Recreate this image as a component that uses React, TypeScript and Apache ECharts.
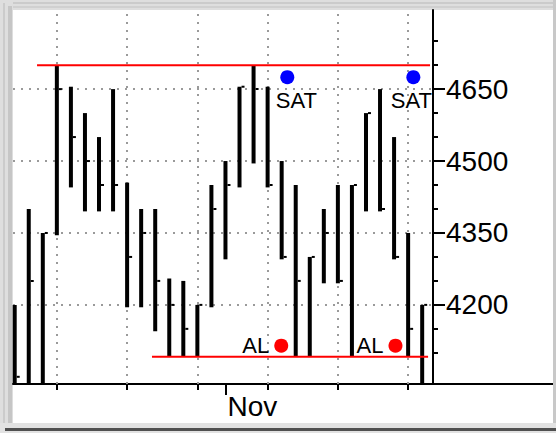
import React, { useEffect, useRef } from 'react';
import * as echarts from 'echarts';

// Daily high / low / close bars, one per trading day
const highs = [4200, 4400, 4350, 4700, 4655, 4600, 4550, 4650, 4455, 4400, 4400, 4255, 4250, 4200, 4450, 4500, 4655, 4700, 4655, 4500, 4450, 4300, 4400, 4450, 4450, 4600, 4650, 4550, 4350, 4200];
const lows = [4030, 4030, 4030, 4345, 4445, 4395, 4395, 4395, 4195, 4195, 4145, 4092, 4092, 4092, 4195, 4295, 4445, 4495, 4445, 4295, 4092, 4092, 4245, 4245, 4092, 4395, 4395, 4295, 4092, 4030];
const closes = [4050, 4250, 4350, 4650, 4550, 4500, 4450, 4450, 4300, 4350, 4250, 4200, 4150, 4200, 4400, 4450, 4655, 4650, 4450, 4300, 4250, 4300, 4350, 4250, 4450, 4600, 4400, 4300, 4150, 4200];

// Resistance / support lines
const resistanceLine = [[1.59, 4700], [29.56, 4700]];
const supportLine = [[9.77, 4092], [29.42, 4092]];

// Signal markers
const satPoints = [[19.4, 4675], [28.37, 4675]];
const alPoints = [[18.97, 4115], [27.1, 4115]];

// Axis ticks
const xGridDays = [3, 8, 13, 18, 23, 28];
const monthStarts = [15];
const monthNames = ['Nov'];
const yLabelValues = [4200, 4350, 4500, 4650];
const yTickValues = [4100, 4150, 4200, 4250, 4300, 4350, 4400, 4450, 4500, 4550, 4600, 4650, 4700, 4750];

const X_MIN = -0.121;
const X_MAX = 29.77;
const Y_MIN = 4035;
const Y_MAX = 4815;

const FONT = '"Liberation Sans", Arial, sans-serif';

export default function App() {
  const ref = useRef<HTMLDivElement>(null);

  useEffect(() => {
    if (!ref.current) return;
    const chart = echarts.init(ref.current, null, { renderer: 'svg' });

    const barData = highs.map((h, i) => [i, h, lows[i], closes[i]]);
    const blackLine = { color: '#000', width: 2 };
    // the label of a marker near the price scale is kept inside the plot
    const satData = satPoints.map((p, i) => ({
      value: p,
      label: { offset: [i === satPoints.length - 1 ? -2 : 9, 0] },
    }));

    const option: any = {
      animation: false,
      backgroundColor: '#ffffff',
      grid: { left: 13, right: 123, top: 10, bottom: 49 },
      xAxis: [
        {
          type: 'value', position: 'bottom', min: X_MIN, max: X_MAX,
          axisLine: { show: true, onZero: false, lineStyle: blackLine },
          axisTick: { show: true, customValues: xGridDays, length: 6, lineStyle: blackLine },
          axisLabel: { show: false },
          splitLine: { show: false },
        },
        {
          type: 'value', position: 'bottom', min: X_MIN, max: X_MAX,
          axisLine: { show: false, onZero: false },
          axisTick: { show: true, customValues: monthStarts, length: 11, lineStyle: blackLine },
          axisLabel: {
            show: true, customValues: monthStarts, align: 'left', margin: 8,
            fontSize: 28, fontFamily: FONT, color: '#000', padding: [0, 0, 0, 2],
            formatter: (v: number) => monthNames[monthStarts.indexOf(Math.round(v))] || '',
          },
          splitLine: { show: false },
        },
      ],
      yAxis: [
        {
          type: 'value', position: 'right', min: Y_MIN, max: Y_MAX,
          axisLine: { show: true, onZero: false, lineStyle: blackLine },
          axisTick: { show: true, customValues: yTickValues, length: 5, lineStyle: blackLine },
          axisLabel: {
            show: true, customValues: yLabelValues, margin: 13, fontSize: 28, fontFamily: FONT, color: '#000',
            formatter: (v: number) => String(Math.round(v)),
          },
          splitLine: { show: false },
        },
        {
          type: 'value', position: 'right', min: Y_MIN, max: Y_MAX,
          axisLine: { show: false, onZero: false },
          axisTick: { show: true, customValues: yLabelValues, length: 12, lineStyle: blackLine },
          axisLabel: { show: false },
          splitLine: { show: false },
        },
      ],
      graphic: [
        // window frame
        { type: 'rect', shape: { x: 0, y: 0, width: 556, height: 10 }, style: { fill: '#dedede' }, silent: true },
        { type: 'rect', shape: { x: 0, y: 2, width: 556, height: 2 }, style: { fill: '#cbcbcb' }, silent: true },
        { type: 'rect', shape: { x: 0, y: 6, width: 556, height: 2 }, style: { fill: '#d0d0d0' }, silent: true },
        { type: 'rect', shape: { x: 0, y: 0, width: 13, height: 425 }, style: { fill: '#dedede' }, silent: true },
        { type: 'rect', shape: { x: 3, y: 3, width: 2, height: 422 }, style: { fill: '#cbcbcb' }, silent: true },
        { type: 'rect', shape: { x: 8, y: 6, width: 4, height: 419 }, style: { fill: '#c6c6c6' }, silent: true },
        { type: 'rect', shape: { x: 553, y: 0, width: 3, height: 433 }, style: { fill: '#c8c8c8' }, silent: true },
        { type: 'rect', shape: { x: 0, y: 423, width: 556, height: 10 }, style: { fill: '#e2e2e2' }, silent: true },
        { type: 'rect', shape: { x: 5, y: 428, width: 551, height: 3 }, style: { fill: '#505050' }, silent: true },
        // bottom rule continues under the price scale
        { type: 'line', shape: { x1: 433, y1: 384, x2: 553, y2: 384 }, style: { stroke: '#000', lineWidth: 2 }, silent: true },
      ],
      series: [
        {
          name: 'grid',
          type: 'line',
          data: [],
          z: 1,
          silent: true,
          markLine: {
            z: 1,
            silent: true,
            symbol: ['none', 'none'],
            label: { show: false },
            emphasis: { disabled: true },
            lineStyle: { color: '#9a9a9a', width: 2, type: [2, 6] },
            data: [
              ...xGridDays.map((v) => ({ xAxis: v })),
              ...yLabelValues.map((v) => ({ yAxis: v })),
            ],
          },
        },
        {
          name: 'HLC',
          type: 'custom',
          z: 3,
          data: barData,
          encode: { x: 0, y: [1, 2, 3] },
          renderItem: (params: any, api: any) => {
            const i = api.value(0);
            const top = api.coord([i, api.value(1)]);
            const bottom = api.coord([i, api.value(2)]);
            const close = api.coord([i, api.value(3)]);
            const cs = params.coordSys;
            const yTop = Math.max(top[1], cs.y);
            const yBottom = Math.min(bottom[1], cs.y + cs.height);
            return {
              type: 'group',
              children: [
                { type: 'rect', shape: { x: top[0] - 2, y: yTop, width: 4, height: yBottom - yTop }, style: { fill: '#000' } },
                { type: 'rect', shape: { x: top[0] + 2, y: close[1] - 1, width: 3, height: 2 }, style: { fill: '#000' } },
              ],
            };
          },
        },
        {
          name: 'resistance',
          type: 'line',
          z: 4,
          data: resistanceLine,
          symbol: 'none',
          lineStyle: { color: '#ff0000', width: 2 },
          silent: true,
        },
        {
          name: 'support',
          type: 'line',
          z: 4,
          data: supportLine,
          symbol: 'none',
          lineStyle: { color: '#ff0000', width: 2 },
          silent: true,
        },
        {
          name: 'SAT',
          type: 'scatter',
          z: 5,
          data: satData,
          symbol: 'circle',
          symbolSize: 14,
          itemStyle: { color: '#0000ff', opacity: 1 },
          label: { show: true, position: 'bottom', distance: 5, formatter: 'SAT', fontSize: 22, fontFamily: FONT, color: '#000' },
        },
        {
          name: 'AL',
          type: 'scatter',
          z: 5,
          data: alPoints,
          symbol: 'circle',
          symbolSize: 14,
          itemStyle: { color: '#ff0000', opacity: 1 },
          label: { show: true, position: 'left', distance: 5, formatter: 'AL', fontSize: 22, fontFamily: FONT, color: '#000' },
        },
      ],
    };

    chart.setOption(option);
    return () => chart.dispose();
  }, []);

  return <div ref={ref} style={{ position: 'absolute', left: 0, top: 0, width: 556, height: 433 }} />;
}
